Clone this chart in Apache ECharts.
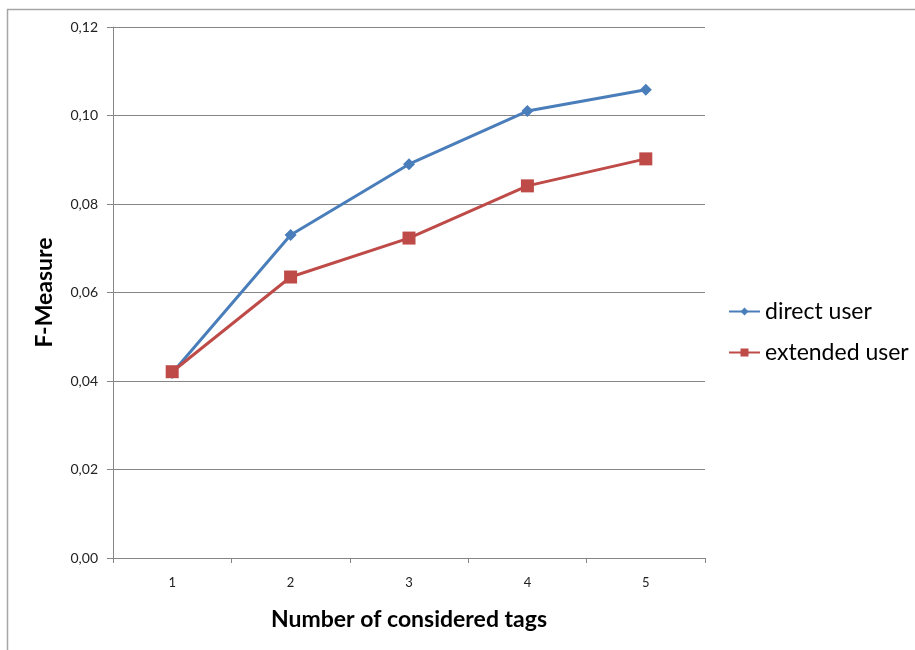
<!DOCTYPE html>
<html>
<head>
<meta charset="utf-8">
<script src="https://cdn.jsdelivr.net/npm/echarts@6/dist/echarts.min.js"></script>
<style>
html,body{margin:0;padding:0;background:#fff;}
#chart{width:915px;height:650px;}
</style>
</head>
<body>
<div id="chart"></div>
<script>
const categories = ['1', '2', '3', '4', '5'];
const directUser = [0.0418, 0.0730, 0.0890, 0.1010, 0.1058];
const extendedUser = [0.0421, 0.0635, 0.0723, 0.0841, 0.0902];
const seriesNames = ['direct user', 'extended user'];

const chart = echarts.init(document.getElementById('chart'));
const FONT = 'Lato, "Open Sans", sans-serif';
const axisGray = '#868686';
chart.setOption({
  backgroundColor: '#ffffff',
  animation: false,
  graphic: [{
    type: 'rect',
    shape: { x: 7.5, y: 9.5, width: 1000, height: 1000 },
    style: { fill: 'none', stroke: '#a6a6a6', lineWidth: 1.5 },
    silent: true
  }],
  grid: { left: 113, right: 210, top: 27, bottom: 92 },
  legend: [{
    data: [seriesNames[0]],
    left: 728, top: 300, padding: 0,
    itemWidth: 31, itemHeight: 10, itemGap: 1,
    textStyle: { fontFamily: FONT, fontSize: 23, color: '#000' }
  }, {
    data: [seriesNames[1]],
    left: 728, top: 341, padding: 0,
    itemWidth: 31, itemHeight: 10, itemGap: 1,
    textStyle: { fontFamily: FONT, fontSize: 23, color: '#000' }
  }],
  xAxis: {
    type: 'category',
    data: categories,
    boundaryGap: true,
    name: 'Number of considered tags',
    nameLocation: 'middle',
    nameGap: 50,
    nameTextStyle: { fontFamily: FONT, fontSize: 23, fontWeight: 'bold', color: '#000' },
    axisLine: { lineStyle: { color: axisGray, width: 1 } },
    axisTick: { show: true, interval: 0, length: 5, alignWithLabel: false, lineStyle: { color: axisGray } },
    axisLabel: { fontFamily: FONT, fontSize: 13, color: '#222', margin: 18 },
    splitLine: { show: false }
  },
  yAxis: {
    type: 'value',
    min: 0, max: 0.12, interval: 0.02,
    name: 'F-Measure',
    nameLocation: 'middle',
    nameGap: 57,
    nameRotate: 90,
    nameTextStyle: { fontFamily: FONT, fontSize: 23, fontWeight: 'bold', color: '#000' },
    axisLine: { show: true, lineStyle: { color: axisGray, width: 1 } },
    axisTick: { show: true, length: 6, lineStyle: { color: axisGray } },
    axisLabel: {
      fontFamily: FONT, fontSize: 14, color: '#222', margin: 15,
      formatter: v => v.toFixed(2).replace('.', ',')
    },
    splitLine: { show: true, lineStyle: { color: axisGray, width: 1 } }
  },
  series: [{
    name: seriesNames[0],
    type: 'line',
    data: directUser,
    color: '#4A7EBB',
    lineStyle: { width: 3, color: '#4A7EBB' },
    symbol: 'diamond',
    symbolSize: 12,
    itemStyle: { color: '#4A7EBB' }
  }, {
    name: seriesNames[1],
    type: 'line',
    data: extendedUser,
    color: '#BE4B48',
    lineStyle: { width: 3, color: '#BE4B48' },
    symbol: 'rect',
    symbolSize: 13,
    itemStyle: { color: '#BE4B48' }
  }]
});
</script>
</body>
</html>
